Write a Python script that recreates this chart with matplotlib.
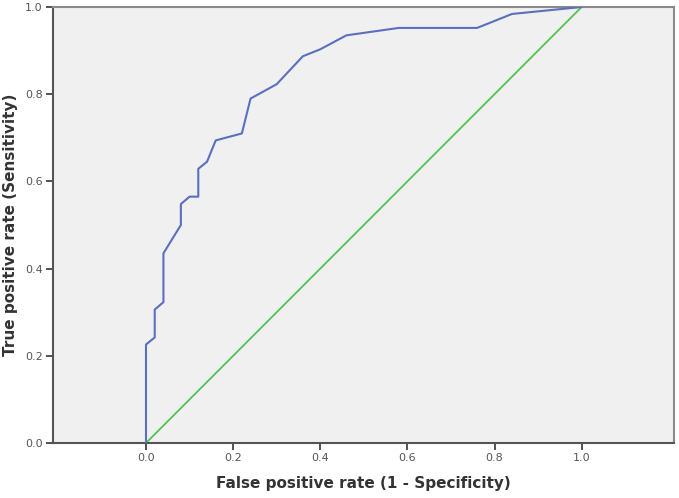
import matplotlib
matplotlib.use("Agg")
import matplotlib.pyplot as plt

# ROC curve values
fpr = [0.00, 0.00, 0.02, 0.02, 0.04, 0.04, 0.08, 0.08, 0.10, 0.12, 0.12, 0.14,
       0.16, 0.22, 0.24, 0.30, 0.36, 0.40, 0.46, 0.58, 0.76, 0.84, 1.00]
tpr = [0.000, 0.226, 0.242, 0.306, 0.323, 0.435, 0.500, 0.548, 0.565, 0.565,
       0.629, 0.645, 0.694, 0.710, 0.790, 0.823, 0.887, 0.903, 0.935, 0.952,
       0.952, 0.984, 1.000]
ref_x = [0.0, 1.0]
ref_y = [0.0, 1.0]
x_ticks = [0.0, 0.2, 0.4, 0.6, 0.8, 1.0]
y_ticks = [0.0, 0.2, 0.4, 0.6, 0.8, 1.0]

fig = plt.figure(figsize=(6.79, 4.98), dpi=100)
ax = fig.add_axes([53/679, 1-443/498, (674-53)/679, (443-7)/498])
ax.set_facecolor('#f0f0f0')

ax.plot(ref_x, ref_y, color='#55c055', lw=1.3, zorder=2)
ax.plot(fpr, tpr, color='#5b6fbf', lw=1.5, zorder=3)

ax.set_xlim(-0.2135, 1.212)
ax.set_ylim(0, 1)
ax.set_xticks(x_ticks)
ax.set_yticks(y_ticks)
ax.set_xticklabels([f"{v:.1f}" for v in x_ticks])
ax.set_yticklabels([f"{v:.1f}" for v in y_ticks])
ax.tick_params(axis='both', direction='out', length=5, width=1.3,
               color='#444444', labelcolor='#555555', labelsize=8, pad=2.5)

for side in ['left', 'bottom']:
    ax.spines[side].set_color('#555555')
    ax.spines[side].set_linewidth(1.5)
for side in ['top', 'right']:
    ax.spines[side].set_color('#8a8a8a')
    ax.spines[side].set_linewidth(1.5)

ax.set_xlabel('False positive rate (1 - Specificity)', fontsize=11,
              fontweight='bold', color='#333333', labelpad=9)
ax.set_ylabel('True positive rate (Sensitivity)', fontsize=11,
              fontweight='bold', color='#333333')
ax.yaxis.set_label_coords((18 - 53) / 621, 0.5)

fig.savefig('out.png', dpi=100, facecolor='white')
